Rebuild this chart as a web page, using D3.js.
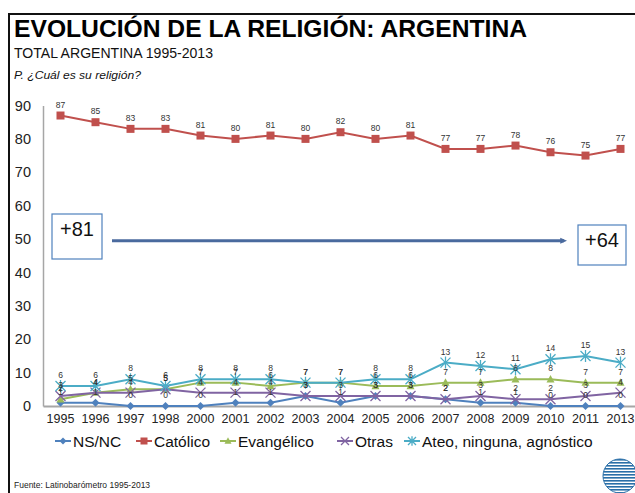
<!DOCTYPE html>
<html>
<head>
<meta charset="utf-8">
<script src="https://cdn.jsdelivr.net/npm/d3@7"></script>
<style>
  body { margin: 0; background: #fff; }
  svg { display: block; font-family: 'Liberation Sans', Arial, sans-serif; }
</style>
</head>
<body>
<svg width="635" height="493"></svg>
<script>
const years = ['1995', '1996', '1997', '1998', '2000', '2001', '2002', '2003', '2004',
  '2005', '2006', '2007', '2008', '2009', '2010', '2011', '2013'];

const nsnc       = [1, 1, 0, 0, 0, 1, 1, 3, 1, 3, 3, 2, 1, 1, 0, 0, 0];
const catolico   = [87, 85, 83, 83, 81, 80, 81, 80, 82, 80, 81, 77, 77, 78, 76, 75, 77];
const evangelico = [2, 4, 5, 5, 7, 7, 6, 7, 7, 6, 6, 7, 7, 8, 8, 7, 7];
const otras      = [3, 4, 4, 5, 4, 4, 4, 3, 3, 3, 3, 2, 3, 2, 2, 3, 4];
const ateo       = [6, 6, 8, 6, 8, 8, 8, 7, 7, 8, 8, 13, 12, 11, 14, 15, 13];

const yTicks = [0, 10, 20, 30, 40, 50, 60, 70, 80, 90];

const series = [
  { name: 'NS/NC', values: nsnc, color: '#4F81BD', marker: 'diamond' },
  { name: 'Católico', values: catolico, color: '#C0504D', marker: 'square' },
  { name: 'Evangélico', values: evangelico, color: '#9BBB59', marker: 'triangle' },
  { name: 'Otras', values: otras, color: '#8064A2', marker: 'cross' },
  { name: 'Ateo, ninguna, agnóstico', values: ateo, color: '#4BACC6', marker: 'star' },
];

const svg = d3.select('svg');

// outer frame
svg.append('path')
  .attr('d', 'M9,493 V14 H640')
  .attr('fill', 'none')
  .attr('stroke', '#111')
  .attr('stroke-width', 2);

// titles
svg.append('text').attr('x', 14).attr('y', 37)
  .attr('font-size', 24).attr('font-weight', 'bold').attr('fill', '#000')
  .attr('textLength', 513).attr('lengthAdjust', 'spacingAndGlyphs')
  .text('EVOLUCIÓN DE LA RELIGIÓN: ARGENTINA');
svg.append('text').attr('x', 14).attr('y', 58)
  .attr('font-size', 15).attr('fill', '#111')
  .attr('textLength', 199).attr('lengthAdjust', 'spacingAndGlyphs')
  .text('TOTAL ARGENTINA  1995-2013');
svg.append('text').attr('x', 14).attr('y', 79)
  .attr('font-size', 10).attr('font-style', 'italic').attr('fill', '#111')
  .attr('textLength', 127).attr('lengthAdjust', 'spacingAndGlyphs')
  .text('P. ¿Cuál  es su religión?');

const x = d3.scaleBand().domain(years).range([43, 638]);
const cx = d => x(d) + x.bandwidth() / 2;
const y = d3.scaleLinear().domain([0, 90]).range([406, 105.5]);

const yAxis = svg.append('g')
  .attr('transform', 'translate(43,0)')
  .call(d3.axisLeft(y).tickValues(yTicks).tickSize(0).tickPadding(12));
yAxis.select('.domain').attr('stroke', '#a6a6a6').attr('stroke-width', 1.5);
yAxis.selectAll('text').attr('font-size', 14.5).attr('fill', '#222')
  .attr('font-family', 'Liberation Sans, Arial, sans-serif');

const xAxis = svg.append('g')
  .attr('transform', 'translate(0,406)')
  .call(d3.axisBottom(x).tickSize(0).tickPadding(8));
xAxis.select('.domain').attr('stroke', '#a6a6a6').attr('stroke-width', 2);
xAxis.selectAll('text').attr('font-size', 12.5).attr('fill', '#222')
  .attr('font-family', 'Liberation Sans, Arial, sans-serif');

function drawMarker(g, type, color, s) {
  if (type === 'diamond') {
    g.append('path').attr('d', `M0,${-s}L${s},0L0,${s}L${-s},0Z`).attr('fill', color);
  } else if (type === 'square') {
    g.append('rect').attr('x', -s).attr('y', -s).attr('width', 2 * s).attr('height', 2 * s)
      .attr('fill', color);
  } else if (type === 'triangle') {
    g.append('path').attr('d', `M0,${-s * 1.1}L${s},${s * 0.8}L${-s},${s * 0.8}Z`).attr('fill', color);
  } else if (type === 'cross') {
    g.append('path').attr('d', `M${-s},${-s}L${s},${s}M${-s},${s}L${s},${-s}`)
      .attr('stroke', color).attr('stroke-width', 1.3).attr('fill', 'none');
  } else {
    g.append('path').attr('d', `M${-s},${-s}L${s},${s}M${-s},${s}L${s},${-s}M0,${-s * 1.2}V${s * 1.2}`)
      .attr('stroke', color).attr('stroke-width', 1.3).attr('fill', 'none');
  }
}

const line = d3.line().x((d, i) => cx(years[i])).y(d => y(d));

for (const s of series) {
  const g = svg.append('g');
  g.append('path')
    .attr('d', line(s.values))
    .attr('fill', 'none')
    .attr('stroke', s.color)
    .attr('stroke-width', 2);
  s.values.forEach((v, i) => {
    const m = g.append('g').attr('transform', `translate(${cx(years[i])},${y(v)})`);
    drawMarker(m, s.marker, s.color, s.marker === 'cross' || s.marker === 'star' ? 5 : 4);
  });
}

// data labels
for (const s of series) {
  svg.append('g').selectAll('text')
    .data(s.values)
    .join('text')
    .attr('x', (d, i) => cx(years[i]))
    .attr('y', d => y(d) - 8)
    .attr('text-anchor', 'middle')
    .attr('font-size', 8.5)
    .attr('fill', '#333')
    .text(d => d);
}

// annotation: +81 -> +64
svg.append('defs').append('marker')
  .attr('id', 'arr').attr('viewBox', '0 0 10 10').attr('refX', 5).attr('refY', 5)
  .attr('markerWidth', 2.5).attr('markerHeight', 2.5).attr('orient', 'auto')
  .append('path').attr('d', 'M0,1L9,5L0,9Z').attr('fill', '#4A6A9E');

svg.append('line')
  .attr('x1', 112).attr('x2', 564)
  .attr('y1', y(49.5)).attr('y2', y(49.5))
  .attr('stroke', '#4A6A9E').attr('stroke-width', 3)
  .attr('marker-end', 'url(#arr)');

const boxes = [
  { label: '+81', x0: 52, y0: 214, w: 50, h: 45 },
  { label: '+64', x0: 578, y0: 225, w: 48, h: 40 },
];
for (const b of boxes) {
  svg.append('rect').attr('x', b.x0).attr('y', b.y0).attr('width', b.w).attr('height', b.h)
    .attr('fill', '#fff').attr('stroke', '#4F81BD').attr('stroke-width', 1.2);
  svg.append('text').attr('x', b.x0 + b.w / 2).attr('y', b.y0 + 22)
    .attr('text-anchor', 'middle').attr('font-size', 20).attr('fill', '#111')
    .text(b.label);
}

// legend
const legendX = [55, 136, 220, 337, 404];
const lg = svg.append('g').attr('transform', 'translate(0,441)');
series.forEach((s, i) => {
  const g = lg.append('g').attr('transform', `translate(${legendX[i]},0)`);
  g.append('line').attr('x1', 0).attr('x2', 16).attr('stroke', s.color).attr('stroke-width', 2);
  const m = g.append('g').attr('transform', 'translate(8,0)');
  drawMarker(m, s.marker, s.color, s.marker === 'cross' || s.marker === 'star' ? 4 : 3.5);
  g.append('text').attr('x', 18).attr('y', 5.5).attr('font-size', 15.5).attr('fill', '#111')
    .text(s.name);
});

// source
svg.append('text').attr('x', 14).attr('y', 488)
  .attr('font-size', 8.5).attr('fill', '#222')
  .text('Fuente:  Latinobarómetro   1995-2013');

// logo (approximation)
const logo = svg.append('g').attr('transform', 'translate(620,476)');
logo.append('clipPath').attr('id', 'lc').append('circle').attr('r', 17);
logo.append('circle').attr('r', 17).attr('fill', '#fff').attr('stroke', '#2a6fa8').attr('stroke-width', 1);
logo.append('g').attr('clip-path', 'url(#lc)').selectAll('rect')
  .data(d3.range(-17, 17, 3))
  .join('rect')
  .attr('x', -17).attr('y', d => d).attr('width', 34).attr('height', 1.6)
  .attr('fill', '#2a6fa8');
</script>
</body>
</html>
